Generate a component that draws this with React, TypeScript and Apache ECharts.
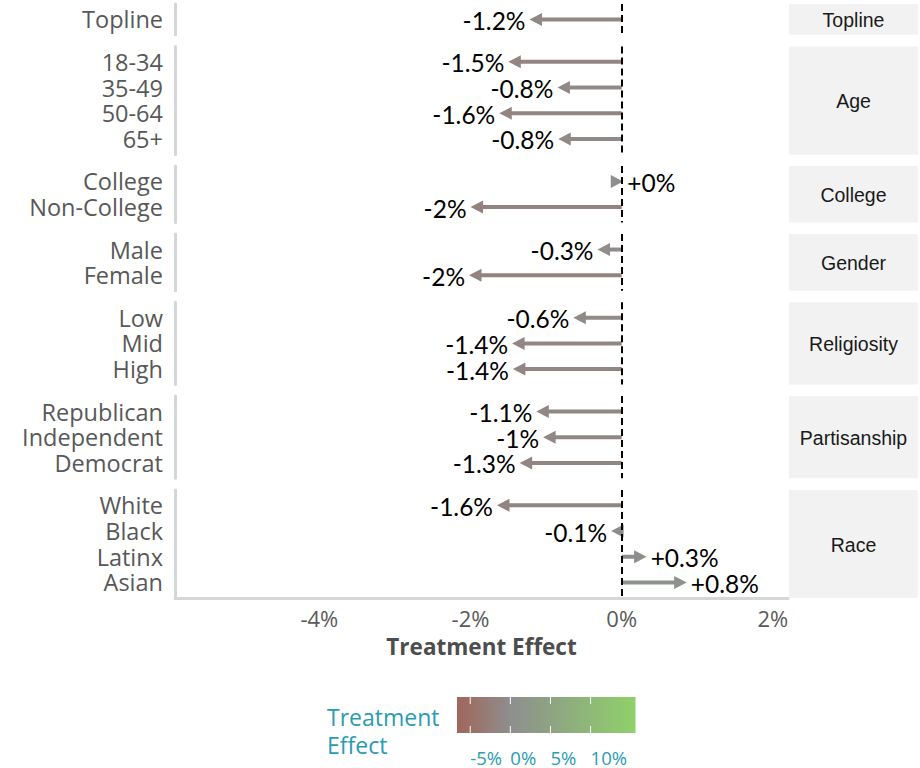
import React, { useEffect, useRef } from 'react';
import * as echarts from 'echarts';

// ---------- data ----------
const panelNames = ['Topline', 'Age', 'College', 'Gender', 'Religiosity', 'Partisanship', 'Race'];

const toplineCats = ['Topline'];
const toplineVals = [-1.22];
const toplineLabels = ['-1.2%'];

const ageCats = ['18-34', '35-49', '50-64', '65+'];
const ageVals = [-1.5, -0.85, -1.62, -0.84];
const ageLabels = ['-1.5%', '-0.8%', '-1.6%', '-0.8%'];

const collegeCats = ['College', 'Non-College'];
const collegeVals = [0.02, -2.0];
const collegeLabels = ['+0%', '-2%'];

const genderCats = ['Male', 'Female'];
const genderVals = [-0.32, -2.02];
const genderLabels = ['-0.3%', '-2%'];

const religCats = ['Low', 'Mid', 'High'];
const religVals = [-0.64, -1.45, -1.44];
const religLabels = ['-0.6%', '-1.4%', '-1.4%'];

const partyCats = ['Republican', 'Independent', 'Democrat'];
const partyVals = [-1.13, -1.04, -1.35];
const partyLabels = ['-1.1%', '-1%', '-1.3%'];

const raceCats = ['White', 'Black', 'Latinx', 'Asian'];
const raceVals = [-1.65, -0.14, 0.33, 0.86];
const raceLabels = ['-1.6%', '-0.1%', '+0.3%', '+0.8%'];

const xTicks = [-4, -2, 0, 2];
const X_MIN = -5.91;
const X_MAX = 2.2;

const legendTicks = [-5, 0, 5, 10];
const LEG_MIN = -6.65;
const LEG_MAX = 15.6;

// ---------- styles / layout ----------
const LOW = '#a0665a';
const MID = '#8e8e8e';
const HIGH = '#8fd16a';
const TEAL = '#2b9bb2';
const AXIS_GRAY = '#d3d7d7';

const PANEL_TOP0 = 4;
const UNIT = 25.7;
const GAP = 11.6;
const GRID_LEFT = 175;
const GRID_RIGHT_EDGE = 788;
const STRIP_X = 789;
const STRIP_W = 129;

const LEG_X0 = 457;
const LEG_W = 178.5;
const LEG_Y0 = 697;
const LEG_H = 36;

const panels = [
  { cats: toplineCats, vals: toplineVals, labels: toplineLabels },
  { cats: ageCats, vals: ageVals, labels: ageLabels },
  { cats: collegeCats, vals: collegeVals, labels: collegeLabels },
  { cats: genderCats, vals: genderVals, labels: genderLabels },
  { cats: religCats, vals: religVals, labels: religLabels },
  { cats: partyCats, vals: partyVals, labels: partyLabels },
  { cats: raceCats, vals: raceVals, labels: raceLabels },
];

function colorFor(v: number): string {
  if (v < 0) {
    const t = Math.max(0, Math.min(1, (v - LEG_MIN) / (0 - LEG_MIN)));
    return echarts.color.lerp(t, [LOW, MID]) as string;
  }
  const t = Math.max(0, Math.min(1, v / LEG_MAX));
  return echarts.color.lerp(t, [MID, HIGH]) as string;
}

function legX(v: number) {
  return LEG_X0 + ((v - LEG_MIN) / (LEG_MAX - LEG_MIN)) * LEG_W;
}

function buildOption() {
  const grids: any[] = [];
  const xAxes: any[] = [];
  const yAxes: any[] = [];
  const series: any[] = [];
  const graphics: any[] = [];

  let top = PANEL_TOP0;
  const last = panels.length - 1;
  panels.forEach((p, k) => {
    const n = p.cats.length;
    const h = (n + 0.2) * UNIT;
    grids.push({
      left: GRID_LEFT,
      top,
      width: GRID_RIGHT_EDGE - GRID_LEFT,
      height: h,
      containLabel: false,
      outerBoundsMode: 'none',
    });
    const isLast = k === last;
    xAxes.push({
      type: 'value',
      gridIndex: k,
      min: X_MIN,
      max: X_MAX,
      axisLine: { show: isLast, onZero: false, lineStyle: { color: AXIS_GRAY, width: 3 } },
      axisTick: { show: false },
      splitLine: { show: false },
      axisLabel: {
        show: isLast,
        customValues: xTicks,
        formatter: (v: number) => `${v}%`,
        color: '#5a5a5a',
        fontFamily: 'Open Sans',
        fontSize: 22,
        margin: 9,
        lineHeight: 22,
      },
      name: isLast ? 'Treatment Effect' : '',
      nameLocation: 'middle',
      nameGap: 38,
      nameTextStyle: {
        color: '#4d4d4d',
        fontFamily: 'Open Sans',
        fontWeight: 'bold',
        fontSize: 22.5,
        lineHeight: 22,
      },
    });
    const cats = p.cats;
    yAxes.push({
      type: 'value',
      gridIndex: k,
      inverse: true,
      min: -0.6,
      max: n - 0.4,
      axisLine: { show: true, onZero: false, lineStyle: { color: AXIS_GRAY, width: 3 } },
      axisTick: { show: false },
      splitLine: { show: false },
      axisLabel: {
        customValues: cats.map((_, i) => i),
        formatter: (v: number) => cats[Math.round(v)] ?? '',
        color: '#585858',
        fontFamily: 'Open Sans',
        fontSize: 23.5,
        lineHeight: 24,
        margin: 12,
      },
    });
    const labels = p.labels;
    series.push({
      type: 'custom',
      xAxisIndex: k,
      yAxisIndex: k,
      clip: false,
      data: p.vals.map((v, i) => [v, i]),
      encode: { x: 0, y: 1 },
      renderItem: (params: any, api: any) => {
        const v = api.value(0) as number;
        const idx = api.value(1) as number;
        const p0 = api.coord([0, idx]);
        const p1 = api.coord([v, idx]);
        const dir = v >= 0 ? 1 : -1;
        const headLen = 12.5;
        const headHalf = 6.5;
        const baseX = p1[0] - dir * headLen;
        const y = p1[1];
        const color = colorFor(v);
        const children: any[] = [];
        if (Math.abs(p1[0] - p0[0]) > headLen) {
          children.push({
            type: 'line',
            shape: { x1: p0[0], y1: y, x2: baseX + dir * 2, y2: y },
            style: { stroke: color, lineWidth: 4 },
          });
        }
        children.push({
          type: 'polygon',
          shape: { points: [[p1[0], y], [baseX, y - headHalf], [baseX, y + headHalf]] },
          style: { fill: color },
        });
        children.push({
          type: 'text',
          x: p1[0] + dir * 4,
          y: y + 1,
          style: {
            text: labels[params.dataIndex],
            fill: '#000',
            fontFamily: 'Lato',
            fontSize: 24.5,
            lineHeight: 24,
            align: dir < 0 ? 'right' : 'left',
            verticalAlign: 'middle',
          },
        });
        return { type: 'group', children };
      },
      markLine: {
        silent: true,
        symbol: 'none',
        label: { show: false },
        lineStyle: { color: '#000', width: 2, type: [7, 4] },
        data: [{ xAxis: 0 }],
      },
      z: 3,
    });

    graphics.push({
      type: 'rect',
      shape: { x: STRIP_X, y: top, width: STRIP_W, height: h },
      style: { fill: '#f2f2f2' },
      silent: true,
    });
    graphics.push({
      type: 'text',
      x: STRIP_X + STRIP_W / 2,
      y: top + h / 2 + 1,
      style: {
        text: panelNames[k],
        fill: '#1a1a1a',
        fontFamily: 'Liberation Sans',
        fontSize: 19.5,
        align: 'center',
        verticalAlign: 'middle',
      },
      silent: true,
    });

    top += h + GAP;
  });

  // legend colorbar
  const midOffset = (0 - LEG_MIN) / (LEG_MAX - LEG_MIN);
  graphics.push({
    type: 'rect',
    shape: { x: LEG_X0, y: LEG_Y0, width: LEG_W, height: LEG_H },
    style: {
      fill: new echarts.graphic.LinearGradient(0, 0, 1, 0, [
        { offset: 0, color: LOW },
        { offset: midOffset, color: MID },
        { offset: 1, color: HIGH },
      ]),
    },
    silent: true,
  });
  legendTicks.forEach((t) => {
    const x = legX(t);
    graphics.push({
      type: 'line',
      shape: { x1: x, y1: LEG_Y0, x2: x, y2: LEG_Y0 + 7 },
      style: { stroke: '#fff', lineWidth: 1 },
      silent: true,
    });
    graphics.push({
      type: 'line',
      shape: { x1: x, y1: LEG_Y0 + LEG_H - 7, x2: x, y2: LEG_Y0 + LEG_H },
      style: { stroke: '#fff', lineWidth: 1 },
      silent: true,
    });
    graphics.push({
      type: 'text',
      x,
      y: LEG_Y0 + LEG_H + 24,
      style: {
        text: `${t}%`,
        fill: TEAL,
        fontFamily: 'Open Sans',
        fontSize: 18.5,
        align: 'left',
        verticalAlign: 'middle',
      },
      silent: true,
    });
  });
  graphics.push({
    type: 'text',
    x: 327,
    y: 717,
    style: {
      text: 'Treatment',
      fill: TEAL,
      fontFamily: 'Open Sans',
      fontSize: 23,
      lineHeight: 24,
      align: 'left',
      verticalAlign: 'middle',
    },
    silent: true,
  });
  graphics.push({
    type: 'text',
    x: 327,
    y: 745,
    style: {
      text: 'Effect',
      fill: TEAL,
      fontFamily: 'Open Sans',
      fontSize: 23,
      lineHeight: 24,
      align: 'left',
      verticalAlign: 'middle',
    },
    silent: true,
  });

  return {
    animation: false,
    backgroundColor: '#ffffff',
    grid: grids,
    xAxis: xAxes,
    yAxis: yAxes,
    series,
    graphic: graphics,
  };
}

export default function App() {
  const ref = useRef<HTMLDivElement>(null);
  useEffect(() => {
    if (!ref.current) return;
    const chart = echarts.init(ref.current, undefined, { renderer: 'svg' });
    chart.setOption(buildOption() as any);
    return () => chart.dispose();
  }, []);
  return (
    <div
      ref={ref}
      style={{ position: 'fixed', left: 0, top: 0, width: 920, height: 768, background: '#fff' }}
    />
  );
}
